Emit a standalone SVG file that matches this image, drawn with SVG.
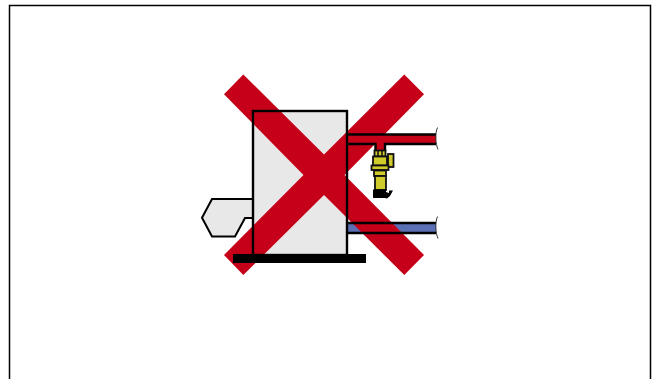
<svg xmlns="http://www.w3.org/2000/svg" width="659" height="379" viewBox="0 0 659 379">
<style>
.k{stroke:#000;stroke-width:2.400;fill:none}
.g{fill:#e8e8e8;stroke:#000;stroke-width:2}
.y{fill:#cfcb2a;stroke:#111;stroke-width:1.800}
</style>
<rect width="659" height="379" fill="#fff"/>
<path id="frame" d="M9.500 379V5.500H650.500V379" fill="none" stroke="#000" stroke-width="1.500"/>
<g id="burner"><path class="g" d="M253 199H212L202 217.700L212 236.500H235L245 218H253"/></g>
<g id="boiler"><rect x="253" y="111" width="94" height="144" fill="#e8e8e8"/></g>
<g id="connectors">
<path d="M347 223H436V233H347Z" fill="#5b6fb5"/>
</g>
<path id="cross" fill="#c60018" d="M243.300 74.500L324 154.500L404.300 74.500L424 94.300L344.500 175L424 255L404.300 275L324 195L243.300 275L224 255L303.500 175L224 94.300Z"/>
<g id="pipes">
<path d="M347 134.500H436V144H385V151H375V144H347Z" fill="#c60018"/>
<path class="k" d="M347 134.500H436M347 144H375.500V151M385 151V144H436M347 223H436M347 233H436"/>
<path d="M437.500 127.500C435 133 435.500 144 438 149.500M437.500 216.500C435 222 435.500 233 438 238.500" fill="none" stroke="#333" stroke-width="1"/>
</g>
<g id="boiler-outline">
<rect class="k" x="253" y="111" width="94" height="144"/>
<rect x="233" y="254" width="133" height="9" fill="#000"/>
</g>
<g id="valve">
<rect class="y" x="388" y="154" width="5.500" height="13"/>
<rect class="y" x="374.500" y="150.500" width="11" height="6"/>
<path d="M378 150.500V156.500M382 150.500V156.500" stroke="#111" stroke-width="1.500"/>
<rect class="y" x="373" y="156.500" width="14" height="9"/>
<rect class="y" x="371.500" y="165.500" width="17" height="4.500"/>
<rect class="y" x="374" y="170.500" width="12" height="5.500"/>
<rect class="y" x="375" y="176" width="11" height="14"/>
<path d="M373 189.500H386V192L389 193V190.500L393 190.500L390 196L387 198.500L385 198H373Z" fill="#000"/>
</g>
</svg>
